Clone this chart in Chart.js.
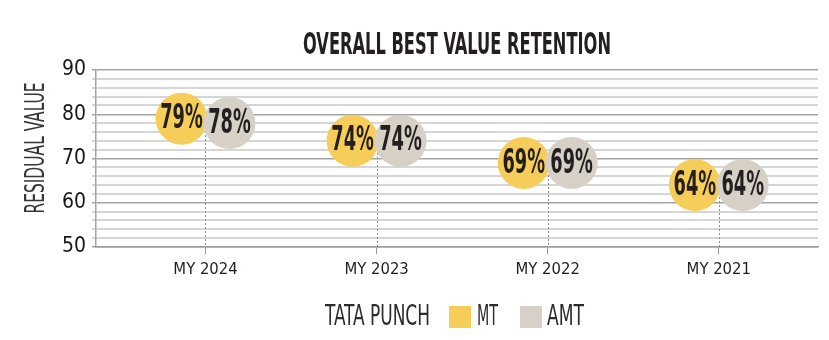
<!DOCTYPE html>
<html>
<head>
<meta charset="utf-8">
<script src="https://cdn.jsdelivr.net/npm/chart.js@4.4.1/dist/chart.umd.min.js"></script>
<style>
  body { margin: 0; background: #fff; }
</style>
</head>
<body>
<canvas id="myChart" width="829" height="340"></canvas>
<script>
const categories = ['MY 2024', 'MY 2023', 'MY 2022', 'MY 2021'];
const mtValues = [79, 74, 69, 64];
const amtValues = [78, 74, 69, 64];
const yTicks = [50, 60, 70, 80, 90];
const seriesNames = ['MT', 'AMT'];
const chartTitle = 'OVERALL BEST VALUE RETENTION';
const yTitle = 'RESIDUAL VALUE';
const legendTitle = 'TATA PUNCH';

const FONT = '"DejaVu Sans Condensed", "DejaVu Sans", sans-serif';
const TEXT = '#231f20';
const MT_COLOR = '#f7cd5a';
const AMT_COLOR = '#d6d0c6';
const shift = 0.14; // half gap between the two circles, in category units

// draw text squeezed into a given width (the original uses a very narrow face)
function fitText(ctx, str, x, y, w, font, align) {
  ctx.save();
  ctx.font = font;
  const m = ctx.measureText(str).width;
  const k = w / m;
  ctx.translate(x, y);
  ctx.scale(k, 1);
  ctx.textAlign = align || 'left';
  ctx.fillText(str, 0, 0);
  ctx.restore();
}

const decorations = {
  id: 'decorations',
  beforeDatasetsDraw(chart) {
    const {ctx, scales: {x, y}} = chart;
    ctx.save();
    ctx.strokeStyle = '#8a8a8a';
    ctx.lineWidth = 1;
    ctx.setLineDash([2, 2]);
    categories.forEach((c, i) => {
      const px = Math.round(x.getPixelForValue(i)) + 0.5;
      const top = y.getPixelForValue(Math.min(mtValues[i], amtValues[i]));
      ctx.beginPath();
      ctx.moveTo(px, top);
      ctx.lineTo(px, y.bottom);
      ctx.stroke();
    });
    ctx.restore();
  },
  afterDatasetsDraw(chart) {
    const {ctx, chartArea} = chart;
    ctx.save();
    ctx.fillStyle = TEXT;
    ctx.textBaseline = 'middle';
    // percent labels in the circles
    chart.data.datasets.forEach((ds, di) => {
      chart.getDatasetMeta(di).data.forEach((el, i) => {
        ctx.save();
        ctx.font = 'bold 33px ' + FONT;
        ctx.textAlign = 'center';
        ctx.translate(el.x, el.y + 1);
        ctx.scale(0.6, 1);
        ctx.fillText(ds.data[i].y + '%', 0, 0);
        ctx.restore();
      });
    });
    // title
    const cx = (chartArea.left + chartArea.right) / 2;
    fitText(ctx, chartTitle, cx, 46, 308, 'bold 30px ' + FONT, 'center');
    // y title
    ctx.save();
    ctx.fillStyle = '#3a3536';
    ctx.translate(37, 148);
    ctx.rotate(-Math.PI / 2);
    fitText(ctx, yTitle, 0, 0, 131, '27px ' + FONT, 'center');
    ctx.restore();
    // legend
    ctx.fillStyle = '#2e2a2b';
    fitText(ctx, legendTitle, 325, 318, 105, '28px ' + FONT, 'left');
    ctx.fillStyle = MT_COLOR;
    ctx.fillRect(449, 306, 22, 22);
    ctx.fillStyle = '#2e2a2b';
    fitText(ctx, seriesNames[0], 477, 318, 21, '28px ' + FONT, 'left');
    ctx.fillStyle = AMT_COLOR;
    ctx.fillRect(520, 306, 22, 22);
    ctx.fillStyle = '#2e2a2b';
    fitText(ctx, seriesNames[1], 547, 318, 37, '28px ' + FONT, 'left');
    ctx.restore();
  }
};

const ctx = document.getElementById('myChart');

new Chart(ctx, {
  type: 'scatter',
  data: {
    datasets: [{
      label: seriesNames[0],
      data: mtValues.map((v, i) => ({x: i - shift, y: v})),
      backgroundColor: MT_COLOR,
      borderWidth: 0,
      pointRadius: 26,
      pointHoverRadius: 26,
      order: 2
    }, {
      label: seriesNames[1],
      data: amtValues.map((v, i) => ({x: i + shift, y: v})),
      backgroundColor: AMT_COLOR,
      borderWidth: 0,
      pointRadius: 26,
      pointHoverRadius: 26,
      order: 1
    }]
  },
  options: {
    responsive: false,
    animation: false,
    layout: { autoPadding: false, padding: { left: 0, right: 11, top: 70, bottom: 0 } },
    plugins: {
      legend: { display: false },
      tooltip: { enabled: false },
      title: { display: false }
    },
    scales: {
      x: {
        type: 'linear',
        min: -0.64,
        max: 3.58,
        afterFit: (s) => { s.height = 93; s.paddingLeft = 0; s.paddingRight = 0; },
        afterBuildTicks: (s) => { s.ticks = categories.map((c, i) => ({value: i})); },
        ticks: {
          color: TEXT,
          font: { family: FONT, size: 16.5 },
          padding: 6,
          callback: (v) => categories[v]
        },
        grid: { drawOnChartArea: false, drawTicks: true, tickLength: 7, color: '#9a9a9a' },
        border: { color: '#9a9a9a', width: 1.5 }
      },
      y: {
        min: 50,
        max: 90,
        afterFit: (s) => { s.width = 96; },
        ticks: {
          stepSize: 2,
          maxTicksLimit: 30,
          autoSkip: false,
          color: '#1a1718',
          padding: 6,
          font: { family: FONT, size: 21 },
          callback: (v) => yTicks.includes(v) ? v : ''
        },
        grid: {
          tickLength: 4,
          color: (c) => c.tick && c.tick.value % 10 === 0 ? '#a3a3a3' : '#d6d6d6',
          lineWidth: (c) => c.tick && c.tick.value % 10 === 0 ? 1.5 : 2
        },
        border: { color: '#a3a3a3', width: 1.5 }
      }
    }
  },
  plugins: [decorations]
});
</script>
</body>
</html>
